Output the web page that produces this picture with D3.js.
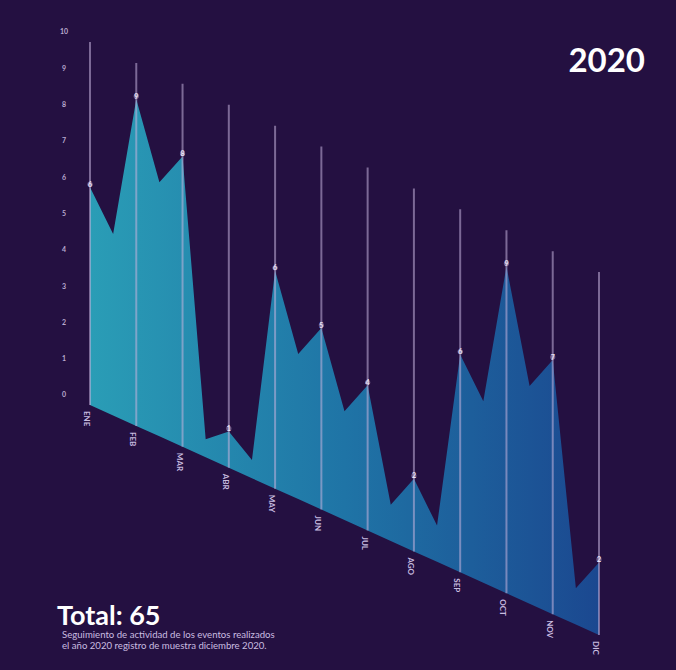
<!DOCTYPE html>
<html>
<head>
<meta charset="utf-8">
<script src="https://cdn.jsdelivr.net/npm/d3@7/dist/d3.min.js"></script>
<style>
  html, body { margin: 0; padding: 0; background: #241041; }
  svg { display: block; }
</style>
</head>
<body>
<svg id="chart" width="676" height="670"></svg>
<script>
// Monthly event counts for 2020
const months = ["ENE","FEB","MAR","ABR","MAY","JUN","JUL","AGO","SEP","OCT","NOV","DIC"];
const monthValues = [6, 9, 8, 1, 6, 5, 4, 2, 6, 9, 7, 2];
// Mid-month readings between consecutive months
const midValues = [5, 7, 0.5, 0.5, 4, 3, 1, 1, 5, 6, 1];
const yTicks = [0, 1, 2, 3, 4, 5, 6, 7, 8, 9, 10];
const yearLabel = "2020";
const subtitleLines = [
  "Seguimiento de actividad de los eventos realizados",
  "el año 2020 registro de muestra diciembre 2020."
];

// Interleave month and mid-month readings along a half-month index
const series = [];
monthValues.forEach((v, i) => {
  series.push({ t: i, v: v });
  if (i < midValues.length) series.push({ t: i + 0.5, v: midValues[i] });
});

const svg = d3.select("#chart");
const W = 676, H = 670;

svg.append("rect").attr("width", W).attr("height", H).attr("fill", "#241041");

const x = d3.scaleLinear().domain([0, months.length - 1]).range([90, 599]);
const y = d3.scaleLinear().domain([0, 10]).range([395, 32]);

// The plot is sheared downward to the right
const slope = 0.452, drop = 10;
const sy = (t, v) => y(v) + drop + (x(t) - x(0)) * slope;

// Horizontal gradient across the area
const defs = svg.append("defs");
const grad = defs.append("linearGradient")
  .attr("id", "areaGrad")
  .attr("gradientUnits", "userSpaceOnUse")
  .attr("x1", x(0)).attr("x2", x(months.length - 1))
  .attr("y1", 0).attr("y2", 0);
grad.append("stop").attr("offset", "0%").attr("stop-color", "#2a9db6");
grad.append("stop").attr("offset", "50%").attr("stop-color", "#1f74a6");
grad.append("stop").attr("offset", "100%").attr("stop-color", "#1b4890");

const area = d3.area()
  .x(d => x(d.t))
  .y0(d => sy(d.t, 0))
  .y1(d => sy(d.t, d.v));

svg.append("path")
  .datum(series)
  .attr("d", area)
  .attr("fill", "url(#areaGrad)");

// Vertical guide line for each month, from baseline up to 10
svg.append("g").selectAll("line")
  .data(months)
  .join("line")
  .attr("x1", (d, i) => x(i)).attr("x2", (d, i) => x(i))
  .attr("y1", (d, i) => sy(i, 0))
  .attr("y2", (d, i) => sy(i, 10))
  .attr("stroke", "#c4b3dd")
  .attr("stroke-opacity", 0.55)
  .attr("stroke-width", 2);

// Y axis labels
svg.append("g").selectAll("text")
  .data(yTicks)
  .join("text")
  .attr("x", 64)
  .attr("y", d => y(d))
  .attr("dy", "0.35em")
  .attr("text-anchor", "middle")
  .attr("font-family", "Lato, sans-serif")
  .attr("font-weight", "bold")
  .attr("font-size", 7)
  .attr("fill", "#b9aacf")
  .text(d => d);

// Month labels, rotated, below the sloping baseline
svg.append("g").selectAll("text")
  .data(months)
  .join("text")
  .attr("transform", (d, i) => `translate(${x(i) - 6},${sy(i, 0) + 6}) rotate(90)`)
  .attr("font-family", "Lato, sans-serif")
  .attr("font-weight", "bold")
  .attr("font-size", 8)
  .attr("fill", "#c9bde0")
  .text(d => d);

// Value markers at each month
const vals = svg.append("g");
vals.selectAll("circle")
  .data(monthValues)
  .join("circle")
  .attr("cx", (d, i) => x(i))
  .attr("cy", (d, i) => sy(i, d) - 3)
  .attr("r", 2.6)
  .attr("fill", "#b8a9d2")
  .attr("fill-opacity", 0.5);
vals.selectAll("text")
  .data(monthValues)
  .join("text")
  .attr("x", (d, i) => x(i))
  .attr("y", (d, i) => sy(i, d) - 0.5)
  .attr("text-anchor", "middle")
  .attr("font-family", "Lato, sans-serif")
  .attr("font-weight", "bold")
  .attr("font-size", 7)
  .attr("fill", "#ece4f6")
  .text(d => d);

// Year
svg.append("text")
  .attr("x", 645).attr("y", 72)
  .attr("text-anchor", "end")
  .attr("font-family", "Lato, sans-serif")
  .attr("font-weight", "bold")
  .attr("font-size", 33)
  .attr("fill", "#ffffff")
  .text(yearLabel);

// Total
svg.append("text")
  .attr("x", 57).attr("y", 625)
  .attr("font-family", "Lato, sans-serif")
  .attr("font-weight", "bold")
  .attr("font-size", 27)
  .attr("fill", "#ffffff")
  .text("Total: " + d3.sum(monthValues));

svg.append("g").selectAll("text")
  .data(subtitleLines)
  .join("text")
  .attr("x", 62)
  .attr("y", (d, i) => 638 + i * 11)
  .attr("font-family", "Lato, sans-serif")
  .attr("font-size", 9.6)
  .attr("fill", "#cabde0")
  .text(d => d);
</script>
</body>
</html>
